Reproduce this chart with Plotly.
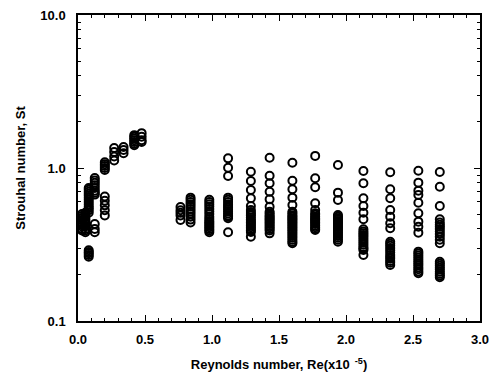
import plotly.graph_objects as go

# Reynolds number (x10^-5) of each measurement column
re_cols = [0.03, 0.055, 0.08, 0.125, 0.20, 0.27, 0.34, 0.42, 0.475,
           0.765, 0.84, 0.98, 1.12, 1.29, 1.43, 1.60, 1.77,
           1.94, 2.13, 2.33, 2.54, 2.70]

# Strouhal numbers measured at each column
st_cols = [
    [0.50, 0.485, 0.47, 0.455, 0.44, 0.43, 0.415, 0.40, 0.39],
    [0.51, 0.50, 0.49, 0.475, 0.46, 0.45, 0.44, 0.43, 0.415, 0.40, 0.39, 0.38],
    [0.74, 0.72, 0.70, 0.68, 0.66, 0.64, 0.62, 0.60, 0.58, 0.56, 0.545, 0.53, 0.51,
     0.29, 0.283, 0.277, 0.27, 0.263],
    [0.86, 0.83, 0.80, 0.77, 0.74, 0.71, 0.69, 0.67, 0.43, 0.40, 0.38],
    [1.09, 1.06, 1.03, 1.00, 0.97, 0.65, 0.61, 0.57, 0.53, 0.49],
    [1.35, 1.27, 1.19, 1.12],
    [1.37, 1.31, 1.25],
    [1.64, 1.60, 1.56, 1.52, 1.48, 1.44, 1.41],
    [1.69, 1.60, 1.52, 1.48],
    [0.556, 0.53, 0.51, 0.49, 0.457],
    [0.64, 0.62, 0.60, 0.58, 0.56, 0.54, 0.52, 0.50, 0.48, 0.46, 0.44],
    [0.62, 0.60, 0.58, 0.56, 0.54, 0.52, 0.50, 0.48, 0.465, 0.45, 0.44, 0.43,
     0.42, 0.41, 0.40, 0.39, 0.38],
    [1.156, 1.005, 0.887, 0.64, 0.62, 0.60, 0.58, 0.565, 0.55, 0.535, 0.52, 0.505,
     0.49, 0.48, 0.47, 0.38],
    [0.946, 0.822, 0.718, 0.634, 0.565, 0.531, 0.515, 0.50, 0.49, 0.475, 0.46, 0.45,
     0.44, 0.43, 0.42, 0.41, 0.40, 0.39, 0.382, 0.356],
    [1.167, 0.891, 0.794, 0.70, 0.624, 0.558, 0.518, 0.505, 0.49, 0.48, 0.47, 0.46,
     0.45, 0.44, 0.43, 0.42, 0.41, 0.40, 0.39, 0.374],
    [1.083, 0.826, 0.726, 0.64, 0.573, 0.518, 0.505, 0.49, 0.48, 0.47, 0.46, 0.45,
     0.44, 0.43, 0.42, 0.41, 0.40, 0.39, 0.38, 0.37, 0.36, 0.35, 0.34, 0.33, 0.322],
    [1.20, 0.857, 0.748, 0.588, 0.531, 0.506, 0.495, 0.48, 0.47, 0.46, 0.45, 0.44,
     0.43, 0.42, 0.41, 0.40, 0.393],
    [1.047, 0.69, 0.618, 0.493, 0.48, 0.47, 0.46, 0.45, 0.44, 0.43, 0.42, 0.41,
     0.40, 0.39, 0.38, 0.37, 0.36, 0.35, 0.34, 0.33],
    [0.955, 0.794, 0.634, 0.565, 0.51, 0.462, 0.398, 0.385, 0.375, 0.365, 0.355,
     0.345, 0.335, 0.325, 0.315, 0.305, 0.298, 0.291, 0.27],
    [0.937, 0.726, 0.634, 0.531, 0.481, 0.435, 0.404, 0.33, 0.32, 0.31, 0.30, 0.29,
     0.28, 0.27, 0.262, 0.255, 0.247, 0.24, 0.232],
    [0.96, 0.802, 0.711, 0.667, 0.593, 0.506, 0.446, 0.413, 0.378, 0.284, 0.276,
     0.268, 0.26, 0.252, 0.245, 0.238, 0.231, 0.224, 0.218, 0.211, 0.205],
    [0.942, 0.755, 0.565, 0.462, 0.44, 0.425, 0.413, 0.40, 0.384, 0.37, 0.356, 0.34,
     0.322, 0.244, 0.237, 0.23, 0.223, 0.217, 0.21, 0.204, 0.198, 0.193],
]

x_ticks = [0.0, 0.5, 1.0, 1.5, 2.0, 2.5, 3.0]
x_tick_text = ["0.0", "0.5", "1.0", "1.5", "2.0", "2.5", "3.0"]
y_ticks = [0.1, 1, 10]
y_tick_text = ["0.1", "1.0", "10.0"]

xs, ys = [], []
for r, col in zip(re_cols, st_cols):
    xs.extend([r] * len(col))
    ys.extend(col)

x_minor = [i / 10 for i in range(31)]
y_minor = [m * d for d in (0.1, 1) for m in range(2, 10)]

fig = go.Figure()
fig.add_trace(go.Scatter(
    x=xs, y=ys, mode="markers",
    marker=dict(symbol="circle-open", size=8, color="black", line=dict(width=2, color="black")),
    showlegend=False,
))

font_fam = "Liberation Sans, Arial, sans-serif"
fig.update_layout(
    width=497, height=378,
    margin=dict(l=78, r=8, t=15, b=56),
    paper_bgcolor="white", plot_bgcolor="white",
    font=dict(family=font_fam, color="black"),
    xaxis=dict(
        range=[0, 3], tickvals=x_ticks, ticktext=x_tick_text,
        ticks="inside", ticklen=6, tickwidth=1.2, tickcolor="black",
        minor=dict(tickmode="array", tickvals=x_minor, ticks="inside", ticklen=3, tickwidth=1, tickcolor="black"),
        showline=True, linecolor="black", linewidth=1.5, mirror="ticks",
        showgrid=False, zeroline=False,
        tickfont=dict(size=13, weight="bold"),
        ticklabelstandoff=6,
        title=dict(text="Reynolds number, Re(x10<sup>  -5</sup>)", font=dict(size=13, weight="bold"), standoff=14),
    ),
    yaxis=dict(
        type="log", range=[-1, 1], tickvals=y_ticks, ticktext=y_tick_text,
        ticks="inside", ticklen=6, tickwidth=1.2, tickcolor="black",
        minor=dict(tickmode="array", tickvals=y_minor, ticks="inside", ticklen=3, tickwidth=1, tickcolor="black"),
        showline=True, linecolor="black", linewidth=1.5, mirror="ticks",
        showgrid=False, zeroline=False,
        tickfont=dict(size=13, weight="bold"),
        ticklabelstandoff=8,
        title=dict(text="Strouhal number, St", font=dict(size=13, weight="bold"), standoff=12),
    ),
)

fig.write_html("out.html")
